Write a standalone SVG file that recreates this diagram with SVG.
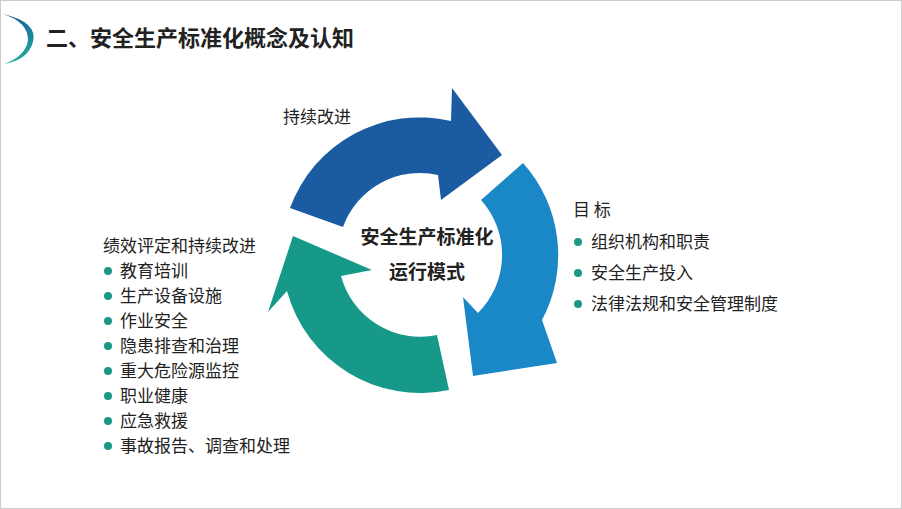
<svg xmlns="http://www.w3.org/2000/svg" width="902" height="509" viewBox="0 0 902 509">
<defs>
<linearGradient id="lg" x1="0" y1="0" x2="0" y2="1"><stop offset="0" stop-color="#1c5f9e"/><stop offset="1" stop-color="#1fb39a"/></linearGradient>
<style>
text{font-family:"Noto Sans CJK SC","Noto Sans",sans-serif;fill:#222}
.t{font-size:17px}
.b{fill:#1a9a85}
.c{font-size:19px;font-weight:bold;text-anchor:middle}
</style>
</defs>
<rect width="902" height="509" fill="#fff"/>
<rect x="0.5" y="0.5" width="901" height="508" fill="none" stroke="#ccc"/>
<g id="header">
<path d="M3,14 Q38,22 33,42 Q28,60 4,64 Q26,56 28,40 Q28,22 3,14 Z" fill="url(#lg)"/>
<text x="46" y="46" style="font-size:22px;font-weight:bold">二、安全生产标准化概念及认知</text>
</g>
<g id="connectors">
<path d="M290,208 A138,138 0 0 1 451,121 L452,88 L502,155 L441,200 L438,175 A82,82 0 0 0 343,227 Z" fill="#1b5ba1"/>
<path d="M523,163 A138,138 0 0 1 542,320 L557,363 L473,376 L463,297 L478,313 A82,82 0 0 0 481,200 Z" fill="#1a87c6"/>
<path d="M449,390 A138,138 0 0 1 287,291 L268,312 L293,236 L372,270 L341,276 A82,82 0 0 0 437,335 Z" fill="#17998a"/>
</g>
<g id="center">
<text class="c" x="427" y="244">安全生产标准化</text>
<text class="c" x="427" y="279">运行模式</text>
</g>
<g id="label-top"><text class="t" x="283" y="123">持续改进</text></g>
<g id="right">
<text class="t" x="573" y="216">目 标</text>
<circle class="b" cx="578" cy="242" r="4"/><text class="t" x="591" y="248">组织机构和职责</text>
<circle class="b" cx="578" cy="273" r="4"/><text class="t" x="591" y="279">安全生产投入</text>
<circle class="b" cx="578" cy="304" r="4"/><text class="t" x="591" y="310">法律法规和安全管理制度</text>
</g>
<g id="left">
<text class="t" x="103" y="252">绩效评定和持续改进</text>
<circle class="b" cx="108" cy="271" r="4"/><text class="t" x="120" y="277">教育培训</text>
<circle class="b" cx="108" cy="296" r="4"/><text class="t" x="120" y="302">生产设备设施</text>
<circle class="b" cx="108" cy="321" r="4"/><text class="t" x="120" y="327">作业安全</text>
<circle class="b" cx="108" cy="346" r="4"/><text class="t" x="120" y="352">隐患排查和治理</text>
<circle class="b" cx="108" cy="371" r="4"/><text class="t" x="120" y="377">重大危险源监控</text>
<circle class="b" cx="108" cy="396" r="4"/><text class="t" x="120" y="402">职业健康</text>
<circle class="b" cx="108" cy="421" r="4"/><text class="t" x="120" y="427">应急救援</text>
<circle class="b" cx="108" cy="446" r="4"/><text class="t" x="120" y="452">事故报告、调查和处理</text>
</g>
</svg>
